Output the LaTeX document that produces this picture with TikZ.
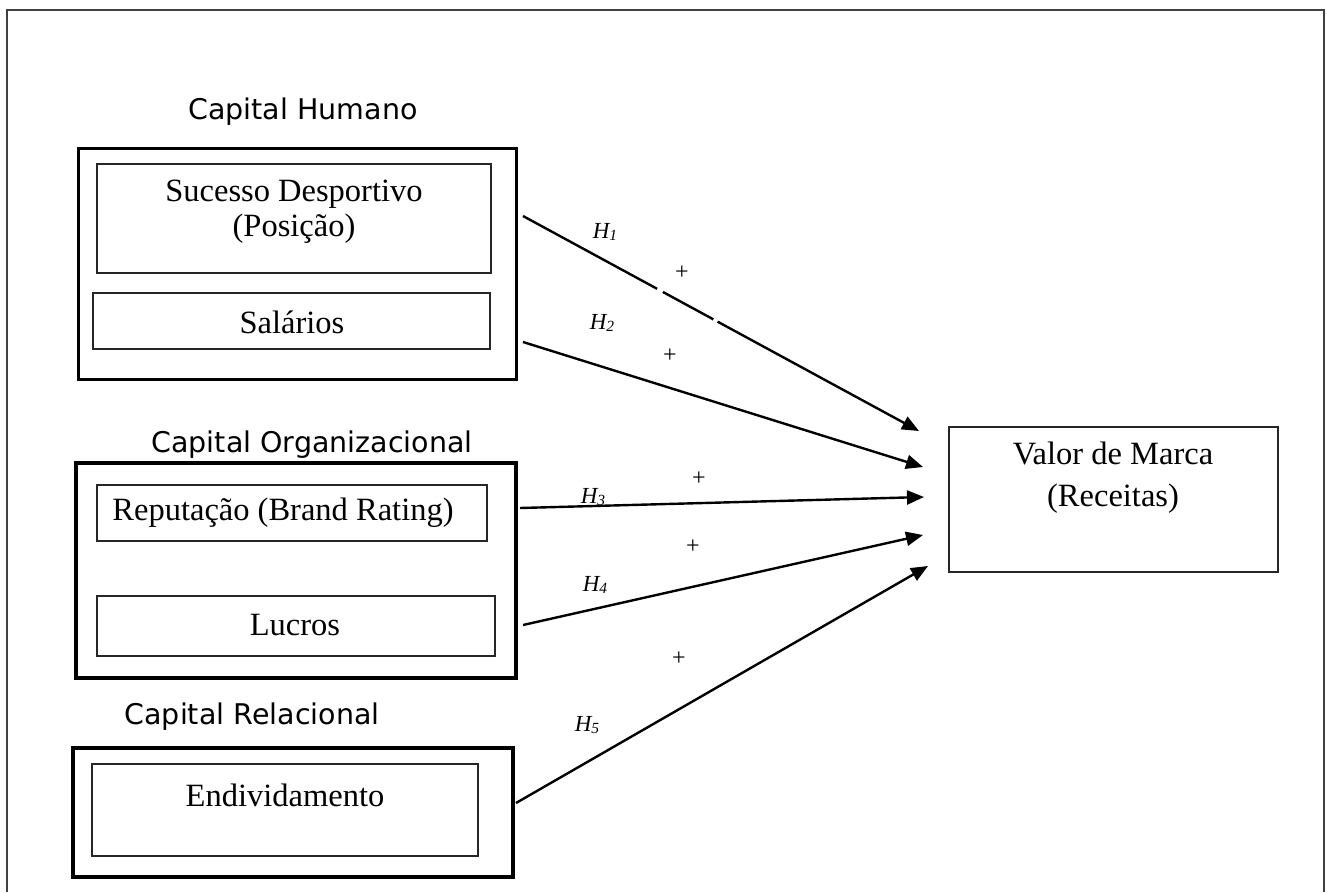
\documentclass[tikz,border=0pt]{standalone}
\usepackage{fontspec}
\setmainfont{Liberation Serif}
\newfontfamily\labfont{DejaVu Sans}
\usetikzlibrary{arrows.meta,calc}
\newcommand\hyp[1]{H\raisebox{-1.5pt}{\fontsize{15.5}{15.5}\selectfont #1}}
\tikzset{
  outerbox/.style={draw=black, line width=3.2pt, inner sep=0pt},
  innerbox/.style={draw=black!85, line width=1.2pt, inner sep=0pt},
  boxtext/.style={font=\fontsize{32.5}{35}\selectfont, align=center, inner sep=0pt},
  grouplabel/.style={font=\labfont\fontsize{28.5}{30}\selectfont, inner sep=0pt},
  hyplabel/.style={font=\itshape\fontsize{23}{24}\selectfont, inner sep=0pt},
  plus/.style={font=\fontsize{24}{24}\selectfont, inner sep=0pt},
  link/.style={line width=2.4pt, -{Triangle[length=17pt,width=14pt]}},
}
\begin{document}
\begin{tikzpicture}[x=1pt,y=-1pt]
\useasboundingbox (0,0) rectangle (1327,892);
% outer frame (open at the bottom)
\draw[line width=1.6pt, black!75] (7,892) -- (7,10) -- (1324,10) -- (1324,892);

% group labels
\node[grouplabel] (lh) at (303,112) {Capital Humano};
\node[grouplabel] (lo) at (312,445) {Capital Organizacional};
\node[grouplabel] (lr) at (252,717) {Capital Relacional};

% Capital Humano
\node[outerbox, minimum width=438pt, minimum height=231pt] (ch) at (297.5,264) {};
\node[innerbox, minimum width=394pt, minimum height=109pt] (sd) at (294,218.5) {};
\node[boxtext] (sdt) at (294,212) {Sucesso Desportivo\\(Posição)};
\node[innerbox, minimum width=397pt, minimum height=56pt] (sal) at (291.5,321) {};
\node[boxtext] (salt) at (292,322) {Salários};

% Capital Organizacional
\node[outerbox, minimum width=440pt, minimum height=215pt] (co) at (296,570.5) {};
\node[innerbox, minimum width=390pt, minimum height=56pt] (rep) at (292,513) {};
\node[boxtext] (rept) at (283,513) {Reputação (Brand Rating)};
\node[innerbox, minimum width=398pt, minimum height=60pt] (luc) at (296,626) {};
\node[boxtext] (luct) at (295,625) {Lucros};

% Capital Relacional
\node[outerbox, minimum width=440pt, minimum height=129pt] (cr) at (293,812.5) {};
\node[innerbox, minimum width=386pt, minimum height=92pt] (end) at (285,810) {};
\node[boxtext] (endt) at (285,795) {Endividamento};

% Valor de Marca
\node[innerbox, minimum width=329pt, minimum height=145pt] (vm) at (1113.5,499.5) {};
\node[boxtext, font=\fontsize{32.5}{42}\selectfont] (vmt) at (1113,478) {Valor de Marca\\(Receitas)};

% connector end points
\coordinate (s1) at (523,216);
\coordinate (s2) at (523,342);
\coordinate (s3) at (520,508);
\coordinate (s4) at (523,625);
\coordinate (s5) at (516,803);
\coordinate (t1) at (919,431);
\coordinate (t2) at (923,467);
\coordinate (t3) at (924,497);
\coordinate (t4) at (923,535);
\coordinate (t5) at (928,566);

\draw[link] (s1) -- (t1);
\draw[link] (s2) -- (t2);
\draw[link] (s3) -- (t3);
\draw[link] (s4) -- (t4);
\draw[link] (s5) -- (t5);

% small gaps in the H1 line
\draw[white, line width=4pt] ($(s1)!0.339!(t1)$) -- ($(s1)!0.353!(t1)$);
\draw[white, line width=4pt] ($(s1)!0.481!(t1)$) -- ($(s1)!0.491!(t1)$);

% hypothesis labels
\node[hyplabel] (h1) at (605,232) {\hyp{1}};
\node[hyplabel] (h2) at (602,323) {\hyp{2}};
\node[hyplabel] (h3) at (593,497) {\hyp{3}};
\node[hyplabel] (h4) at (595,585) {\hyp{4}};
\node[hyplabel] (h5) at (587,725) {\hyp{5}};

\node[plus] (p1) at (682,273) {+};
\node[plus] (p2) at (670,356) {+};
\node[plus] (p3) at (699,479) {+};
\node[plus] (p4) at (693,547) {+};
\node[plus] (p5) at (679,659) {+};
\end{tikzpicture}
\end{document}
